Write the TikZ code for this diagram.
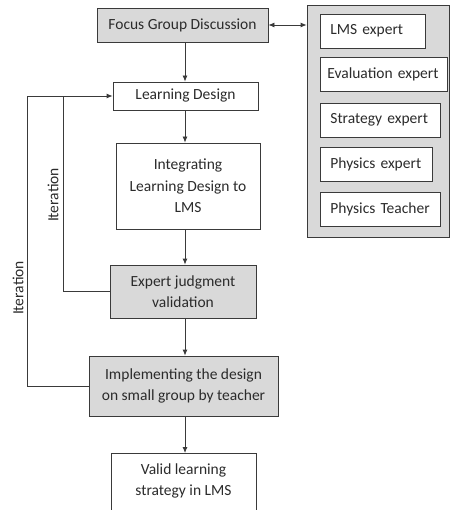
\documentclass[tikz,border=0pt]{standalone}
\usepackage{fontspec}
\setmainfont{Carlito}
\usetikzlibrary{arrows.meta}
\definecolor{boxgray}{HTML}{D9D9D9}
\definecolor{linec}{HTML}{3A3A3A}
\definecolor{txtc}{HTML}{2B2B2B}
\tikzset{
  basebox/.style={draw=linec, line width=0.8pt, text=txtc, align=center, inner sep=0pt,
    font=\fontsize{15.5}{21.5}\selectfont},
  graybox/.style={basebox, fill=boxgray},
  whitebox/.style={basebox, fill=white},
  ebox/.style={draw=linec, line width=0.8pt, fill=white, text=txtc, anchor=west, align=left,
    inner xsep=10pt, inner ysep=0pt, minimum height=34pt, font=\fontsize{15.5}{18}\selectfont},
  arr/.style={draw=linec, line width=0.8pt, -{Latex[length=6pt,width=5pt]}},
  arrtwo/.style={draw=linec, line width=0.8pt, {Latex[length=6pt,width=5pt]}-{Latex[length=6pt,width=5pt]}},
  plain/.style={draw=linec, line width=0.8pt},
  lbl/.style={text=txtc, rotate=90, font=\fontsize{15.5}{18}\selectfont, inner sep=0pt}
}
\begin{document}
\begin{tikzpicture}[x=1pt, y=-1pt]
\useasboundingbox (0,0) rectangle (453,510);
\clip (0,0) rectangle (453,510);
% coordinates for the spine and loop columns
\coordinate (spine) at (185,0);
\coordinate (innerx) at (63,0);
\coordinate (outerx) at (27,0);
% main column
\node[graybox, minimum width=171pt, minimum height=34pt] (fgd) at (182.5,25) {Focus Group Discussion};
\node[whitebox, minimum width=145pt, minimum height=28pt] (ld) at (185.5,96) {Learning Design};
\node[whitebox, minimum width=144pt, minimum height=86pt] (integ) at (188,186) {Integrating\\Learning Design to\\LMS};
\node[graybox, minimum width=146pt, minimum height=53pt] (exp) at (183,291.5) {Expert judgment\\validation};
\node[graybox, minimum width=189pt, minimum height=60pt] (imp) at (183.5,386) {Implementing the design\\on small group by teacher};
% last box, cut off by the lower edge
\node[text=txtc, align=center, inner sep=0pt, font=\fontsize{15.5}{21.5}\selectfont] (valid) at (183.5,481) {Valid learning\\strategy in LMS};
\coordinate (vtl) at (111,453);
\coordinate (vtr) at (256,453);
\coordinate (vbl) at (111,530);
\coordinate (vbr) at (256,530);
\draw[plain] (vbl) -- (vtl) -- (vtr) -- (vbr);
% right panel
\node[draw=linec, line width=0.8pt, fill=boxgray, minimum width=142pt, minimum height=232pt, inner sep=0pt] (panel) at (378,121) {};
\node[ebox, text width=85pt] (lms) at (320,31) {LMS expert};
\node[ebox, inner xsep=7pt, text width=113pt] (eval) at (320,74) {Evaluation expert};
\node[ebox, text width=100pt] (strat) at (320,120) {Strategy expert};
\node[ebox, text width=92pt] (phys) at (320,164) {Physics expert};
\node[ebox, text width=100pt] (teach) at (320,209) {Physics Teacher};
% connectors
\draw[arrtwo] (fgd.east) -- (fgd.east -| panel.west);
\draw[arr] (fgd.south -| spine) -- (ld.north -| spine);
\draw[arr] (ld.south -| spine) -- (integ.north -| spine);
\draw[arr] (integ.south -| spine) -- (exp.north -| spine);
\draw[arr] (exp.south -| spine) -- (imp.north -| spine);
\draw[arr] (imp.south -| spine) -- (vtl -| spine);
% iteration loops
\draw[arr] (exp.west) -- (exp.west -| innerx) |- (ld.west);
\draw[plain] (imp.west) -- (imp.west -| outerx) |- (ld.west -| innerx);
\node[lbl] (it1) at (53,195) {Iteration};
\node[lbl] (it2) at (18,288) {Iteration};
\end{tikzpicture}
\end{document}
